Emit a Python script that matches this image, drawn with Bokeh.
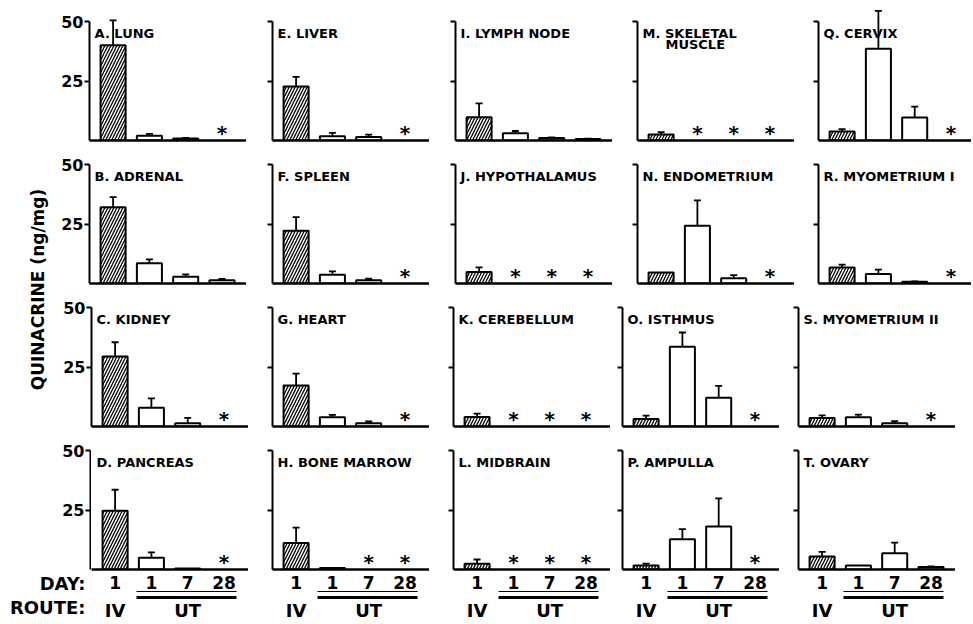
import numpy as np
from bokeh.plotting import figure
from bokeh.models import (Range1d, LinearAxis, FixedTicker, ColumnDataSource,
                          Whisker, TeeHead, Label)
from bokeh.layouts import row, column
from bokeh.embed import file_html
from bokeh.resources import INLINE
from bokeh.core.properties import value

FONT = "DejaVu Sans"

# ---------------- data (ng/mg) ----------------
panel_letters = list("ABCDEFGHIJKLMNOPQRST")
panel_names = ["LUNG", "ADRENAL", "KIDNEY", "PANCREAS",
               "LIVER", "SPLEEN", "HEART", "BONE MARROW",
               "LYMPH NODE", "HYPOTHALAMUS", "CEREBELLUM", "MIDBRAIN",
               "SKELETAL\nMUSCLE", "ENDOMETRIUM", "ISTHMUS", "AMPULLA",
               "CERVIX", "MYOMETRIUM I", "MYOMETRIUM II", "OVARY"]
day_labels = ["1", "1", "7", "28"]
route_labels = ["IV", "UT"]
row_headers = ["DAY:", "ROUTE:"]
y_label = "QUINACRINE (ng/mg)"
y_ticks = [25, 50]
y_tick_labels = ["25", "50"]

# None = not detected (asterisk)
iv_day1 = [40.0, 32.0, 29.4, 24.7, 22.7, 22.2, 17.2, 11.1, 9.8, 4.8,
           4.0, 2.4, 2.5, 4.6, 3.2, 1.7, 3.8, 6.7, 3.6, 5.5]
iv_day1_err = [10.5, 4.3, 6.0, 8.8, 4.0, 5.7, 5.0, 6.5, 5.8, 2.0,
               1.4, 1.8, 1.0, 0.0, 1.4, 0.8, 1.0, 1.2, 1.1, 1.9]
ut_day1 = [2.0, 8.5, 7.9, 4.9, 1.8, 3.7, 3.9, 0.6, 3.0, None,
           None, None, None, 24.3, 33.5, 12.7, 38.5, 4.0, 3.9, 1.7]
ut_day1_err = [0.8, 1.6, 3.9, 2.3, 1.4, 1.4, 1.0, 0.0, 1.0, None,
               None, None, None, 10.6, 6.0, 4.3, 16.0, 1.8, 1.1, 0.0]
ut_day7 = [0.8, 2.8, 1.4, 0.4, 1.5, 1.4, 1.4, None, 1.0, None,
           None, None, None, 2.2, 12.1, 18.1, 9.7, 0.7, 1.4, 6.8]
ut_day7_err = [0.3, 1.0, 2.2, 0.0, 1.0, 0.6, 0.7, None, 0.3, None,
               None, None, None, 1.3, 5.0, 11.8, 4.5, 0.2, 0.8, 4.5]
ut_day28 = [None, 1.4, None, None, None, None, None, None, 0.6, None,
            None, None, None, None, None, None, None, None, None, 1.0]
ut_day28_err = [None, 0.5, None, None, None, None, None, None, 0.2, None,
                None, None, None, None, None, None, None, None, None, 0.3]

# ---------------- layout constants (pixels) ----------------
PX_X = 36.3          # px per category step
PX_Y = 2.38          # px per ng/mg
X_START = -0.65
FRAME_H = 133
FRAME_W = 157
RIGHT_LIMIT = 971
axis_x = [[89, 272, 455, 637, 818],
          [89, 272, 455, 637, 818],
          [91, 272, 453, 622, 798],
          [91, 272, 453, 622, 798]]
top_border = [7, 0, 0, 0]
bottom_border = [10, 10, 10, 55]
LEFT_W = 50
HEADER_TICKS = [-6, -16]     # data-unit rows (below baseline) for DAY: / ROUTE:


def bold_axis_font(ax, size):
    ax.major_label_text_font = FONT
    ax.major_label_text_font_style = "bold"
    ax.major_label_text_font_size = size
    ax.major_label_text_color = "black"


def no_ticks(ax):
    ax.major_tick_out = 0
    ax.major_tick_in = 0
    ax.minor_tick_out = 0
    ax.minor_tick_in = 0


def value_axis(show_labels):
    yax = LinearAxis(ticker=FixedTicker(ticks=y_ticks), bounds=(0, 50),
                     axis_line_width=2, major_tick_line_width=2,
                     major_tick_out=5, major_tick_in=0,
                     minor_tick_out=0, minor_tick_in=0,
                     major_label_standoff=1)
    bold_axis_font(yax, "16px")
    if show_labels:
        yax.major_label_overrides = {t: s for t, s in zip(y_ticks, y_tick_labels)}
    else:
        yax.major_label_overrides = {t: "" for t in y_ticks}
        yax.major_label_standoff = 0
    return yax


def make_head():
    """Row-4 left strip: value axis of panel D plus the DAY:/ROUTE: row headers."""
    r = 3
    lb = axis_x[r][0] - 1
    h = FRAME_H + bottom_border[r]
    p = figure(width=lb + 1, height=h,
               x_range=Range1d(0, 1),
               y_range=Range1d(-bottom_border[r] / PX_Y, FRAME_H / PX_Y),
               x_axis_type=None, y_axis_type=None,
               toolbar_location=None, output_backend="svg",
               min_border_left=lb, min_border_right=0,
               min_border_top=0, min_border_bottom=0,
               outline_line_color=None, frame_align=False)
    p.add_layout(value_axis(True), "left")
    hax = LinearAxis(ticker=FixedTicker(ticks=HEADER_TICKS), bounds=(-25, -2),
                     major_label_overrides={t: s for t, s in zip(HEADER_TICKS, row_headers)},
                     axis_line_color=None, major_label_standoff=-26)
    no_ticks(hax)
    bold_axis_font(hax, "18px")
    p.add_layout(hax, "left")
    return p


def make_panel(r, c, left_edge):
    idx = c * 4 + r
    lb = axis_x[r][c] - left_edge
    fw = min(FRAME_W, RIGHT_LIMIT - axis_x[r][c])
    p = figure(width=lb + fw, height=top_border[r] + FRAME_H + bottom_border[r],
               x_range=Range1d(X_START, X_START + fw / PX_X),
               y_range=Range1d(0, FRAME_H / PX_Y),
               x_axis_type=None, y_axis_type=None,
               toolbar_location=None, output_backend="svg",
               min_border_left=lb, min_border_right=0,
               min_border_top=top_border[r], min_border_bottom=bottom_border[r],
               outline_line_color=None)

    if not (r == 3 and c == 0):
        p.add_layout(value_axis(c == 0), "left")

    if r < 3:
        xax = LinearAxis(ticker=FixedTicker(ticks=[]), axis_line_width=2.5,
                         major_label_standoff=0)
        no_ticks(xax)
        p.add_layout(xax, "below")
    else:
        xax = LinearAxis(ticker=FixedTicker(ticks=list(range(4))),
                         major_label_overrides={i: d for i, d in enumerate(day_labels)},
                         axis_line_width=2.5, major_label_standoff=6)
        no_ticks(xax)
        bold_axis_font(xax, "17px")
        p.add_layout(xax, "below")
        thin = LinearAxis(ticker=FixedTicker(ticks=[]), bounds=(0.6, 3.35),
                          axis_line_width=1.2, major_label_standoff=0,
                          axis_label=" ", axis_label_standoff=0,
                          axis_label_text_font_size="3px")
        no_ticks(thin)
        p.add_layout(thin, "below")
        thick = LinearAxis(ticker=FixedTicker(ticks=[]), bounds=(0.6, 3.35),
                           axis_line_width=3, major_label_standoff=0)
        no_ticks(thick)
        p.add_layout(thick, "below")
        rax = LinearAxis(ticker=FixedTicker(ticks=[0, 2]),
                         major_label_overrides={0: route_labels[0], 2: route_labels[1]},
                         axis_line_color=None, major_label_standoff=2)
        no_ticks(rax)
        bold_axis_font(rax, "18px")
        p.add_layout(rax, "below")

    vals = [iv_day1[idx], ut_day1[idx], ut_day7[idx], ut_day28[idx]]
    errs = [iv_day1_err[idx], ut_day1_err[idx], ut_day7_err[idx], ut_day28_err[idx]]
    xs = list(range(4))

    # IV bar (hatched)
    if vals[0] is not None:
        p.vbar(x=[xs[0]], top=[vals[0]], width=0.69, bottom=0,
               fill_color="white", line_color="black", line_width=2,
               hatch_pattern="/", hatch_scale=6, hatch_weight=1.3,
               hatch_color="black")
    # UT bars (open)
    ux = [x for x, v in zip(xs[1:], vals[1:]) if v is not None]
    uv = [v for v in vals[1:] if v is not None]
    if ux:
        p.vbar(x=ux, top=uv, width=0.69, bottom=0,
               fill_color="white", line_color="black", line_width=2)

    wx, wu, wl = [], [], []
    for x, v, e in zip(xs, vals, errs):
        if v is not None and e:
            wx.append(x); wu.append(v + e); wl.append(max(v - e, 0))
    if wx:
        src = ColumnDataSource(dict(x=wx, upper=wu, lower=wl))
        w = Whisker(source=src, base="x", upper="upper", lower="lower",
                    dimension="height", line_width=1.8, line_color="black",
                    upper_head=TeeHead(size=7, line_width=1.8, line_color="black"),
                    lower_head=TeeHead(size=7, line_width=1.8, line_color="black"))
        p.add_layout(w)

    ax_ = [x for x, v in zip(xs, vals) if v is None]
    if ax_:
        p.text(x=ax_, y=[3.0] * len(ax_), text=["*"] * len(ax_),
               text_font=value(FONT), text_font_style="bold",
               text_font_size="20px", text_align="center",
               text_baseline="middle", text_color="black")

    lines = panel_names[idx].split("\n")
    p.text(x=[X_START + 0.14], y=[45.0], text=[f"{panel_letters[idx]}. {lines[0]}"],
           text_font=value(FONT), text_font_style="bold", text_font_size="13px",
           text_align="left", text_baseline="alphabetic", text_color="black")
    if len(lines) > 1:
        p.text(x=[X_START + 0.14 + 0.63], y=[45.0 - 11 / PX_Y], text=[lines[1]],
               text_font=value(FONT), text_font_style="bold", text_font_size="13px",
               text_align="left", text_baseline="alphabetic", text_color="black")
    return p


left_h = sum(top_border[r] + FRAME_H + bottom_border[r] for r in range(3))
left = figure(width=LEFT_W, height=left_h,
              x_range=Range1d(0, LEFT_W), y_range=Range1d(0, left_h),
              x_axis_type=None, y_axis_type=None, toolbar_location=None,
              output_backend="svg", min_border=0, outline_line_color=None,
              frame_align=False)
left.add_layout(Label(x=37, y=left_h - 289, text=y_label, angle=90, angle_units="deg",
                      text_align="center", text_baseline="middle",
                      text_font=FONT, text_font_style="bold",
                      text_font_size="17px", text_color="black"))

rows = []
for r in range(4):
    figs = []
    if r < 3:
        start = LEFT_W
    else:
        figs.append(make_head())
        start = axis_x[r][0]
    for c in range(5):
        figs.append(make_panel(r, c, start))
        start = axis_x[r][c] + min(FRAME_W, RIGHT_LIMIT - axis_x[r][c])
    rows.append(row(*figs, spacing=0))

layout = column(row(left, column(*rows[:3], spacing=0), spacing=0), rows[3], spacing=0)

open("out.html", "w").write(file_html(layout, INLINE))
